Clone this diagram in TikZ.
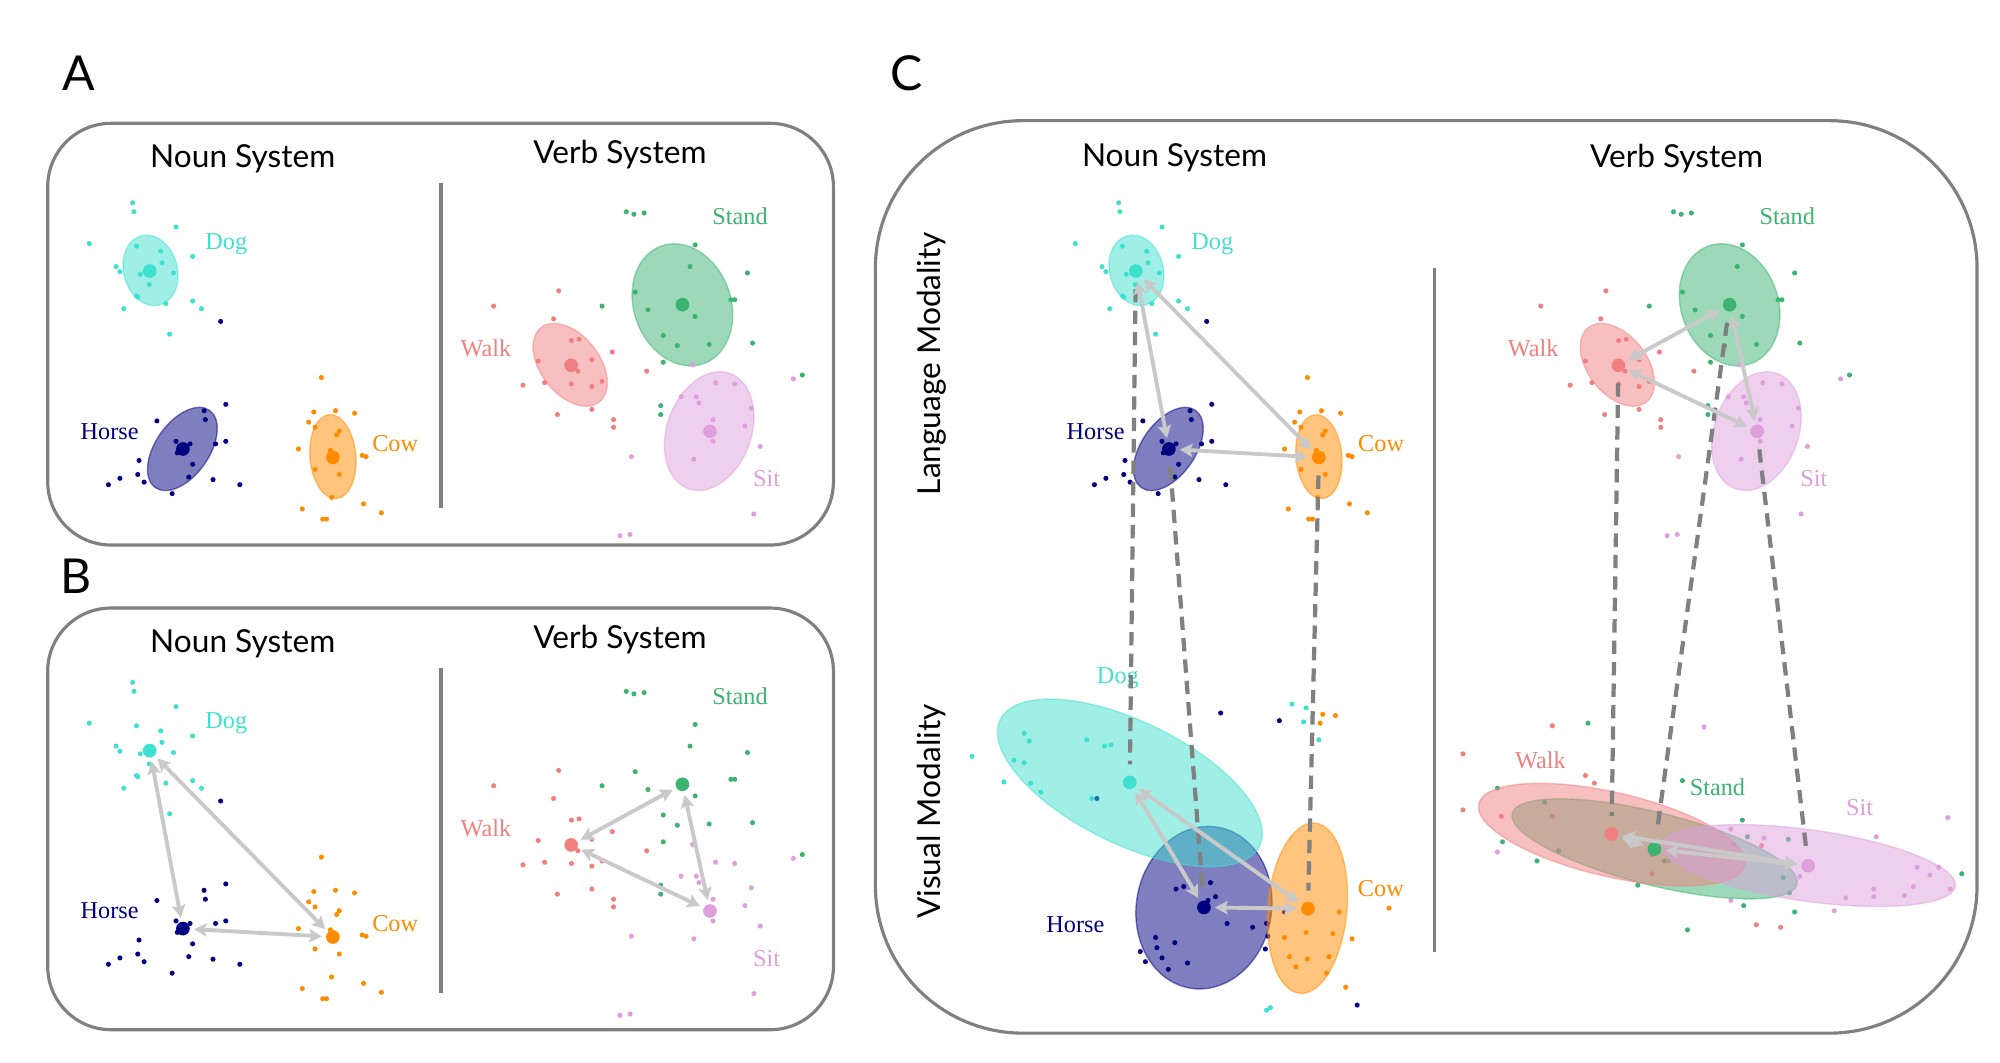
\documentclass[tikz,border=0pt]{standalone}
\usepackage{fontspec}
\setmainfont{Lato}
\newfontfamily\lblfont{Liberation Serif}
\usetikzlibrary{arrows.meta, positioning}

\definecolor{dogc}{RGB}{64,224,208}
\definecolor{horsec}{RGB}{0,0,128}
\definecolor{cowc}{RGB}{255,140,0}
\definecolor{walkc}{RGB}{240,128,128}
\definecolor{standc}{RGB}{60,179,113}
\definecolor{sitc}{RGB}{221,160,221}

% language points (panel A coordinates)
\newcommand\dogpts{104/159, 105/166, 138/178, 70/191, 107/193, 126/197, 151/201, 91/209, 94/213, 127/206, 110/215, 136/214, 117/223, 107/232, 108/233, 130/238, 151/236, 158/242, 97/242, 133/262}
\newcommand\horsepts{173/252, 177/317, 123/330, 160/322, 161/329, 138/346, 149/348, 139/355, 169/348, 177/346, 109/361, 151/364, 108/372, 94/375, 85/380, 113/378, 148/374, 167/376, 188/380, 135/387}
\newcommand\cowpts{252/296, 246/323, 263/322, 278/324, 242/331, 247/335, 266/338, 264/341, 234/352, 259/353, 284/357, 287/358, 247/368, 266/372, 260/390, 237/399, 285/395, 299/402, 253/407, 256/407}
\newcommand\walkpts{438/228, 387/240, 434/250, 448/267, 454/266, 480/276, 422/283, 464/282, 453/291, 507/291, 410/302, 427/300, 448/301, 464/303, 472/299, 437/325, 464/321, 481/329, 481/335}
\newcommand\standpts{491/166, 497/168, 505/167, 545/192, 541/209, 586/214, 498/229, 472/240, 508/243, 545/248, 573/235, 576/235, 520/263, 531/271, 590/269, 520/284, 518/318, 518/325, 629/294, 556/270}
\newcommand\sitpts{543/286, 622/297, 561/300, 576/301, 534/311, 546/311, 548/316, 589/320, 559/329, 584/334, 559/346, 596/350, 495/358, 544/360, 591/403, 486/420, 494/419}

% visual points
\newcommand\vdogpts{762/593, 803/575, 807/581, 795/596, 803/598, 787/613, 808/614, 816/621, 852/580, 866/585, 871/584, 856/626, 1013/552, 1024/555, 1022/566, 1034/580, 993/792, 996/790}
\newcommand\vhorsepts{957/559, 1003/565, 860/626, 949/692, 928/695, 922/697, 953/703, 947/706, 1007/715, 962/724, 982/727, 993/724, 994/734, 992/744, 906/735, 921/739, 907/743, 894/746, 911/751, 898/754, 931/755, 916/760, 1064/788}
\newcommand\vcowpts{1037/560, 1047/561, 1035/567, 1089/712, 1050/715, 1024/731, 1045/732, 1007/735, 1060/736, 1011/750, 1025/752, 1042/750, 1016/758, 1040/763, 1055/774}
\newcommand\vwalkpts{1217/569, 1147/591, 1243/608, 1250/614, 1147/635, 1177/640, 1217/640, 1295/670, 1295/685, 1381/663, 1377/725, 1396/727}
\newcommand\vstandpts{1245/567, 1319/612, 1174/618, 1211/629, 1178/660, 1222/667, 1205/675, 1305/675, 1284/694, 1366/643, 1370/656, 1402/658, 1398/688, 1403/700, 1367/710, 1407/715, 1323/729, 1538/685}
\newcommand\vsitpts{1336/570, 1174/668, 1357/650, 1383/657, 1359/662, 1308/675, 1411/687, 1471/656, 1503/680, 1513/686, 1520/680, 1469/697, 1469/703, 1500/695, 1493/702, 1447/704, 1438/714, 1357/706, 1527/641, 1529/697}

\newcommand\nounell{%
  \fill[ell=dogc, rotate around={105:(118,212)}] (118,212) ellipse (28 and 21);
  \fill[ell=horsec, rotate around={55:(143,352)}] (143,352) ellipse (37 and 21);
  \fill[ell=cowc, rotate around={95:(261,358)}] (261,358) ellipse (33 and 18);
}
\newcommand\verbell{%
  \fill[ell=walkc, rotate around={128:(447,286)}] (447,286) ellipse (37 and 23);
  \fill[ell=standc, rotate around={110:(535,239)}] (535,239) ellipse (49 and 38);
  \fill[ell=sitc, rotate around={70:(556,338)}] (556,338) ellipse (48 and 33);
}
\newcommand\nounsys[1]{%
  \foreach \x/\y in \dogpts {\fill[dogc] (\x,\y) circle (2);}
  \foreach \x/\y in \horsepts {\fill[horsec] (\x,\y) circle (2);}
  \foreach \x/\y in \cowpts {\fill[cowc] (\x,\y) circle (2);}
  \node[ctr=dogc] (#1dog) at (117.4,212.5) {};
  \node[ctr=horsec] (#1horse) at (143.4,352) {};
  \node[ctr=cowc] (#1cow) at (261,358.6) {};
  \node[lbl=dogc] (#1doglbl) at (177.4,195.5) {Dog};
  \node[lbl=horsec] (#1horselbl) at (86,344.4) {Horse};
  \node[lbl=cowc] (#1cowlbl) at (309.8,354.1) {Cow};
}
\newcommand\verbsys[1]{%
  \foreach \x/\y in \walkpts {\fill[walkc] (\x,\y) circle (2);}
  \foreach \x/\y in \standpts {\fill[standc] (\x,\y) circle (2);}
  \foreach \x/\y in \sitpts {\fill[sitc] (\x,\y) circle (2);}
  \node[ctr=walkc] (#1walk) at (447.8,286.4) {};
  \node[ctr=standc] (#1stand) at (535,238.9) {};
  \node[ctr=sitc] (#1sit) at (556.6,338.2) {};
  \node[lbl=walkc] (#1walklbl) at (381,279.6) {Walk};
  \node[lbl=standc] (#1standlbl) at (580.2,176.4) {Stand};
  \node[lbl=sitc] (#1sitlbl) at (601,381.6) {Sit};
}
\newcommand\nounarr[1]{%
  \draw[simarr] (#1dog) -- (#1horse);
  \draw[simarr] (#1dog) -- (#1cow);
  \draw[simarr] (#1horse) -- (#1cow);
}
\newcommand\verbarr[1]{%
  \draw[simarr] (#1walk) -- (#1stand);
  \draw[simarr] (#1walk) -- (#1sit);
  \draw[simarr] (#1stand) -- (#1sit);
}

\begin{document}
\begin{tikzpicture}[x=0.012755cm, y=-0.012755cm,
    panel/.style={draw=gray, line width=0.9pt},
    divider/.style={draw=gray, line width=0.9pt},
    title/.style={font=\fontsize{9}{11}\selectfont, anchor=base},
    letter/.style={font=\fontsize{13.7}{16}\selectfont, anchor=base},
    modal/.style={font=\fontsize{9}{11}\selectfont, rotate=90},
    ell/.style={fill=#1, fill opacity=0.5, draw=#1, draw opacity=0.5, line width=0.4pt},
    ctr/.style={circle, fill=#1, inner sep=0pt, minimum size=3.9pt},
    lbl/.style={text=#1, font=\lblfont\fontsize{6.9}{8}\selectfont, anchor=base},
    simarr/.style={draw=gray!42, line width=1.1pt, {Stealth[length=3.6pt,width=3.8pt,inset=0.7pt]}-{Stealth[length=3.6pt,width=3.8pt,inset=0.7pt]}, shorten <=1pt, shorten >=1pt},
    modlink/.style={draw=gray, line width=1.2pt, dash pattern=on 3.8pt off 2.3pt, shorten <=3pt, shorten >=3pt}]
\useasboundingbox (0,0) rectangle (1568,833);

\draw[panel, rounded corners=18pt] (37.4,96.7) rectangle (653.4,427.3);
\draw[panel, rounded corners=18pt] (37.4,476.7) rectangle (653.4,807.3);
\draw[panel, rounded corners=42pt] (686.3,94.6) rectangle (1550,810);
\draw[divider] (345.8,143.6) -- (345.8,398.5);
\draw[divider] (345.8,523.8) -- (345.8,778.6);
\draw[divider] (1124.9,210.3) -- (1124.9,746.6);

\node[letter] (la) at (62,71) {A};
\node[letter] (lb) at (59.5,465) {B};
\node[letter] (lc) at (710.5,71) {C};
\node[title] (anoun) at (190.3,131.2) {Noun System};
\node[title] (averb) at (486,128) {Verb System};
\node[title] (bnoun) at (190.3,511.2) {Noun System};
\node[title] (bverb) at (486,508.5) {Verb System};
\node[title] (cnoun) at (920.8,130.2) {Noun System};
\node[title] (cverb) at (1314.4,131) {Verb System};
\node[modal] (lang) at (730.4,285) {Language Modality};
\node[modal] (vis) at (730.4,636.3) {Visual Modality};

\begin{scope}
  \nounell \verbell
  \nounsys{a} \verbsys{a}
\end{scope}

\begin{scope}[shift={(0,376)}]
  \nounsys{b} \verbsys{b}
  \nounarr{b} \verbarr{b}
\end{scope}

\begin{scope}[shift={(773,0)}]
  \nounell \nounsys{cl}
\end{scope}
\begin{scope}[shift={(821,0)}]
  \verbell \verbsys{cl}
\end{scope}

\foreach \x/\y in \vdogpts {\fill[dogc] (\x,\y) circle (2);}
\foreach \x/\y in \vhorsepts {\fill[horsec] (\x,\y) circle (2);}
\foreach \x/\y in \vcowpts {\fill[cowc] (\x,\y) circle (2);}
\foreach \x/\y in \vwalkpts {\fill[walkc] (\x,\y) circle (2);}
\foreach \x/\y in \vstandpts {\fill[standc] (\x,\y) circle (2);}
\foreach \x/\y in \vsitpts {\fill[sitc] (\x,\y) circle (2);}
\fill[ell=horsec, rotate around={80:(943.9,711.6)}] (943.9,711.6) ellipse (64 and 53);
\fill[ell=cowc, rotate around={85:(1025,712)}] (1025,712) ellipse (67 and 31);
\fill[ell=dogc, rotate around={-26:(885.8,613.8)}] (885.8,613.8) ellipse (113 and 48);
\fill[ell=standc, rotate around={-14:(1297.2,665.5)}] (1297.2,665.5) ellipse (115 and 28.5);
\fill[ell=walkc, rotate around={-13:(1263.6,654.3)}] (1263.6,654.3) ellipse (107 and 33);
\fill[ell=sitc, rotate around={-8:(1418,678.6)}] (1418,678.6) ellipse (116 and 28);

\node[ctr=dogc] (cvdog) at (885.7,613.4) {};
\node[ctr=horsec] (cvhorse) at (943.9,711.4) {};
\node[ctr=cowc] (cvcow) at (1025.4,712.4) {};
\node[ctr=walkc] (cvwalk) at (1263.4,653.9) {};
\node[ctr=standc] (cvstand) at (1297.1,665.7) {};
\node[ctr=sitc] (cvsit) at (1417.6,678.7) {};
\node[lbl=dogc] (cvdoglbl) at (876.4,535.8) {Dog};
\node[lbl=horsec] (cvhorselbl) at (843.1,731.3) {Horse};
\node[lbl=cowc] (cvcowlbl) at (1082.6,702.5) {Cow};
\node[lbl=walkc] (cvwalklbl) at (1207.7,602.4) {Walk};
\node[lbl=standc] (cvstandlbl) at (1346.5,623.3) {Stand};
\node[lbl=sitc] (cvsitlbl) at (1458,639.5) {Sit};

\foreach \k in {dog,horse,cow,walk,stand,sit}
  \draw[modlink] (cl\k) -- (cv\k);

\nounarr{cl} \verbarr{cl}
\nounarr{cv} \verbarr{cv}
\end{tikzpicture}
\end{document}
